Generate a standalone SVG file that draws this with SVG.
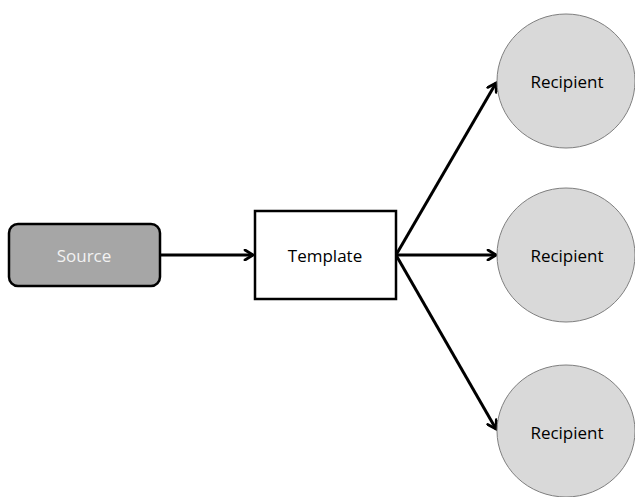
<svg xmlns="http://www.w3.org/2000/svg" width="635" height="497" viewBox="0 0 635 497">
  <style>
    .lbl { font-family: "Open Sans", "Liberation Sans", sans-serif; font-size: 17px; text-anchor: middle; dominant-baseline: central; }
    .rcp { fill: #d9d9d9; stroke: #7f7f7f; stroke-width: 1; }
    .edge { stroke: #000; stroke-width: 3; fill: none; }
  </style>
  <defs>
    <marker id="arrow" viewBox="0 0 12 12" refX="10" refY="6" markerWidth="12" markerHeight="12" markerUnits="userSpaceOnUse" orient="auto">
      <path d="M2,1 L10,6 L2,11" fill="none" stroke="#000" stroke-width="2.8" stroke-linecap="round" stroke-linejoin="miter"/>
    </marker>
  </defs>
  <rect width="635" height="497" fill="#fff"/>

  <g id="connectors">
    <line class="edge" x1="160" y1="255" x2="253" y2="255" marker-end="url(#arrow)"/>
    <line class="edge" x1="396" y1="255" x2="496" y2="255" marker-end="url(#arrow)"/>
    <line class="edge" x1="396" y1="255" x2="496" y2="83" marker-end="url(#arrow)"/>
    <line class="edge" x1="396" y1="255" x2="496" y2="429" marker-end="url(#arrow)"/>
  </g>

  <g id="source">
    <rect x="9" y="224" width="151" height="62" rx="9" fill="#a6a6a6" stroke="#000" stroke-width="2.5"/>
    <text class="lbl" x="84" y="255" fill="#f2f2f2">Source</text>
  </g>

  <g id="template">
    <rect x="255" y="211" width="141" height="88" fill="#fff" stroke="#000" stroke-width="2.5"/>
    <text class="lbl" x="325" y="255" fill="#000">Template</text>
  </g>

  <g id="recipient-1">
    <ellipse class="rcp" cx="566" cy="81" rx="69" ry="67"/>
    <text class="lbl" x="567" y="81" fill="#000">Recipient</text>
  </g>

  <g id="recipient-2">
    <ellipse class="rcp" cx="566" cy="255" rx="69" ry="67"/>
    <text class="lbl" x="567" y="255" fill="#000">Recipient</text>
  </g>

  <g id="recipient-3">
    <ellipse class="rcp" cx="566" cy="431" rx="69" ry="66"/>
    <text class="lbl" x="567" y="432" fill="#000">Recipient</text>
  </g>
</svg>
